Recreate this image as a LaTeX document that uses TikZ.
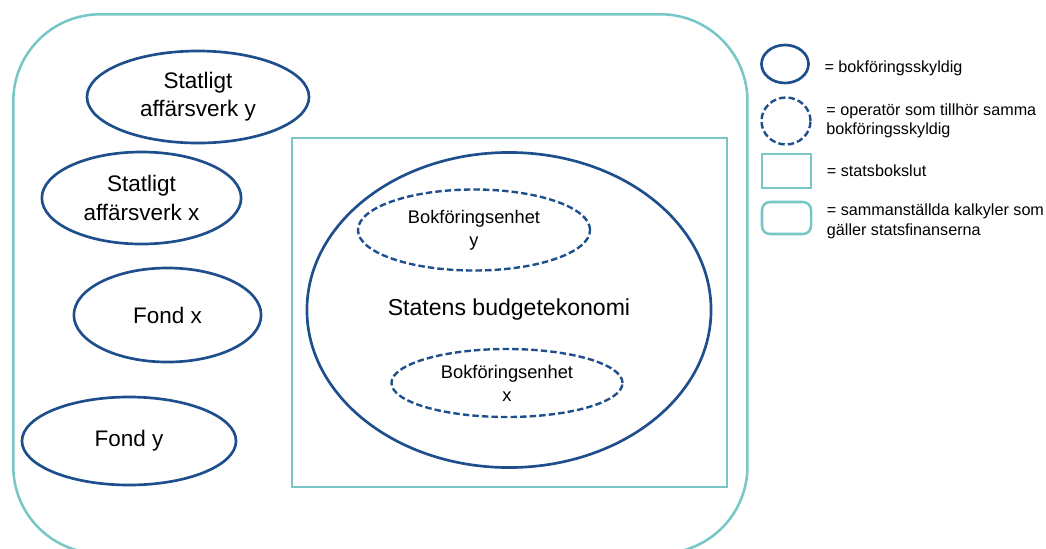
\documentclass[tikz,border=0pt]{standalone}
\usepackage{fontspec}
\setmainfont{Liberation Sans}
\usetikzlibrary{shapes.geometric, positioning}
\definecolor{entityblue}{RGB}{31, 78, 140}
\definecolor{frameteal}{RGB}{120, 199, 198}

\begin{document}
\begin{tikzpicture}[
    x=0.025cm, y=-0.025cm,
    node distance=0.36cm,
    entity/.style={ellipse, draw=entityblue, line width=1.9pt, inner sep=0pt,
                   align=center, font=\fontsize{16}{20}\selectfont},
    subunit/.style={ellipse, draw=entityblue, line width=1.7pt,
                    dash pattern=on 4.6pt off 2.2pt, inner sep=0pt,
                    align=center, font=\fontsize{13}{16.3}\selectfont},
    tealbox/.style={rectangle, draw=frameteal, line width=1.8pt, inner sep=0pt},
    legtext/.style={inner sep=0pt, align=left, font=\fontsize{11.5}{13.7}\selectfont}
]
\useasboundingbox (0,0) rectangle (1046,548);

% sammanställda kalkyler (cut off at the bottom)
\begin{scope}
\clip (0,0) rectangle (1046,548);
\node[tealbox, rounded corners=2.175cm, minimum width=18.35cm, minimum height=13.475cm,
      anchor=north west] (total) at (12,13) {};
\end{scope}

% bokföringsskyldiga utanför statsbokslutet
\node[entity, minimum width=5.55cm, minimum height=2.3cm] (affy) at (198,97) {Statligt\\affärsverk y};
\node[entity, minimum width=4.98cm, minimum height=2.3cm] (affx) at (141.5,198) {Statligt\\affärsverk x};
\node[entity, minimum width=4.68cm, minimum height=2.35cm] (fondx) at (167.5,315) {Fond x};
\node[entity, minimum width=5.35cm, minimum height=2.2cm] (fondy) at (129,441) {Fond y};

% statsbokslut
\node[tealbox, minimum width=10.875cm, minimum height=8.725cm] (bokslut) at (509.5,312.5) {};
\node[entity, minimum width=10.1cm, minimum height=7.875cm,
      font=\fontsize{16.4}{20}\selectfont] (budget) at (509,310) {Statens budgetekonomi};
\node[subunit, minimum width=5.8cm, minimum height=2.025cm] (enhety) at (474,230) {Bokföringsenhet\\y};
\node[subunit, minimum width=5.775cm, minimum height=1.7cm] (enhetx) at (507,383) {Bokföringsenhet\\x};

% förklaring
\node[entity, minimum width=1.175cm, minimum height=0.95cm] (legsolid) at (785,64) {};
\node[subunit, minimum width=1.225cm, minimum height=1.175cm] (legdash) at (786,121) {};
\node[tealbox, minimum width=1.225cm, minimum height=0.85cm] (legrect) at (786.5,171) {};
\node[tealbox, rounded corners=0.2cm, minimum width=1.225cm, minimum height=0.8cm] (leground) at (786.5,218) {};

\node[legtext, right=of legsolid, yshift=-0.12cm] (legsolidtxt) {= bokföringsskyldig};
\node[legtext, right=of legdash] (legdashtxt) {= operatör som tillhör samma\\bokföringsskyldig};
\node[legtext, right=of legrect] (legrecttxt) {= statsbokslut};
\node[legtext, right=of leground, yshift=-0.08cm] (legroundtxt) {= sammanställda kalkyler som\\gäller statsfinanserna};

\end{tikzpicture}
\end{document}
